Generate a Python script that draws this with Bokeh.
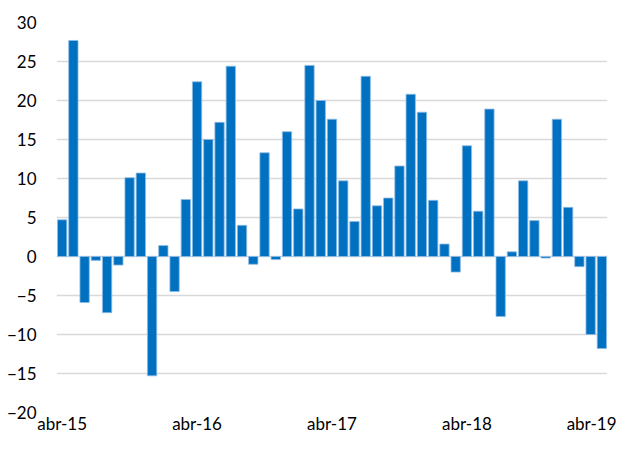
from bokeh.plotting import figure
from bokeh.models import Range1d, FixedTicker, ColumnDataSource
from bokeh.embed import file_html
from bokeh.resources import INLINE

# Monthly values, abr-15 .. abr-19
values = [4.7, 27.7, -5.9, -0.5, -7.2, -1.1, 10.1, 10.7, -15.3, 1.4,
          -4.5, 7.3, 22.4, 15.0, 17.2, 24.4, 4.0, -1.0, 13.3, -0.4,
          16.0, 6.1, 24.5, 20.0, 17.6, 9.7, 4.5, 23.1, 6.5, 7.5,
          11.6, 20.8, 18.5, 7.2, 1.6, -2.0, 14.2, 5.8, 18.9, -7.7,
          0.6, 9.7, 4.6, -0.2, 17.6, 6.3, -1.3, -10.0, -11.8]
months = list(range(len(values)))
tick_positions = [0, 12, 24, 36, 48]
tick_labels = ["abr-15", "abr-16", "abr-17", "abr-18", "abr-19"]
y_ticks = [-20, -15, -10, -5, 0, 5, 10, 15, 20, 25, 30]

source = ColumnDataSource(dict(x=months, top=values))

p = figure(width=616, height=436, output_backend="svg", toolbar_location=None,
           x_range=Range1d(-0.5, len(values) - 0.5), y_range=Range1d(-20, 30),
           min_border_left=56, min_border_right=9, min_border_top=22,
           min_border_bottom=22)
p.outline_line_color = None
p.background_fill_color = "white"
p.border_fill_color = "white"

p.vbar(x="x", top="top", bottom=0, width=0.83, source=source,
       fill_color="#0070C0", line_color="#8fbde6", line_width=0.8)

p.xgrid.grid_line_color = None
p.ygrid.ticker = FixedTicker(ticks=y_ticks)
p.ygrid.grid_line_color = "#D9D9D9"
p.ygrid.grid_line_width = 1.5

p.yaxis.ticker = FixedTicker(ticks=y_ticks)
p.xaxis.ticker = FixedTicker(ticks=tick_positions)
p.xaxis.major_label_overrides = {t: l for t, l in zip(tick_positions, tick_labels)}

for ax in (p.xaxis, p.yaxis):
    ax.axis_line_color = None
    ax.major_tick_line_color = None
    ax.minor_tick_line_color = None
    ax.major_tick_out = 0
    ax.major_tick_in = 0
    ax.major_label_text_font = "Lato"
    ax.major_label_text_font_size = "17px"
    ax.major_label_text_color = "#000000"

p.yaxis.major_label_standoff = 20
p.xaxis.major_label_standoff = 0

open("out.html", "w").write(file_html(p, INLINE))
